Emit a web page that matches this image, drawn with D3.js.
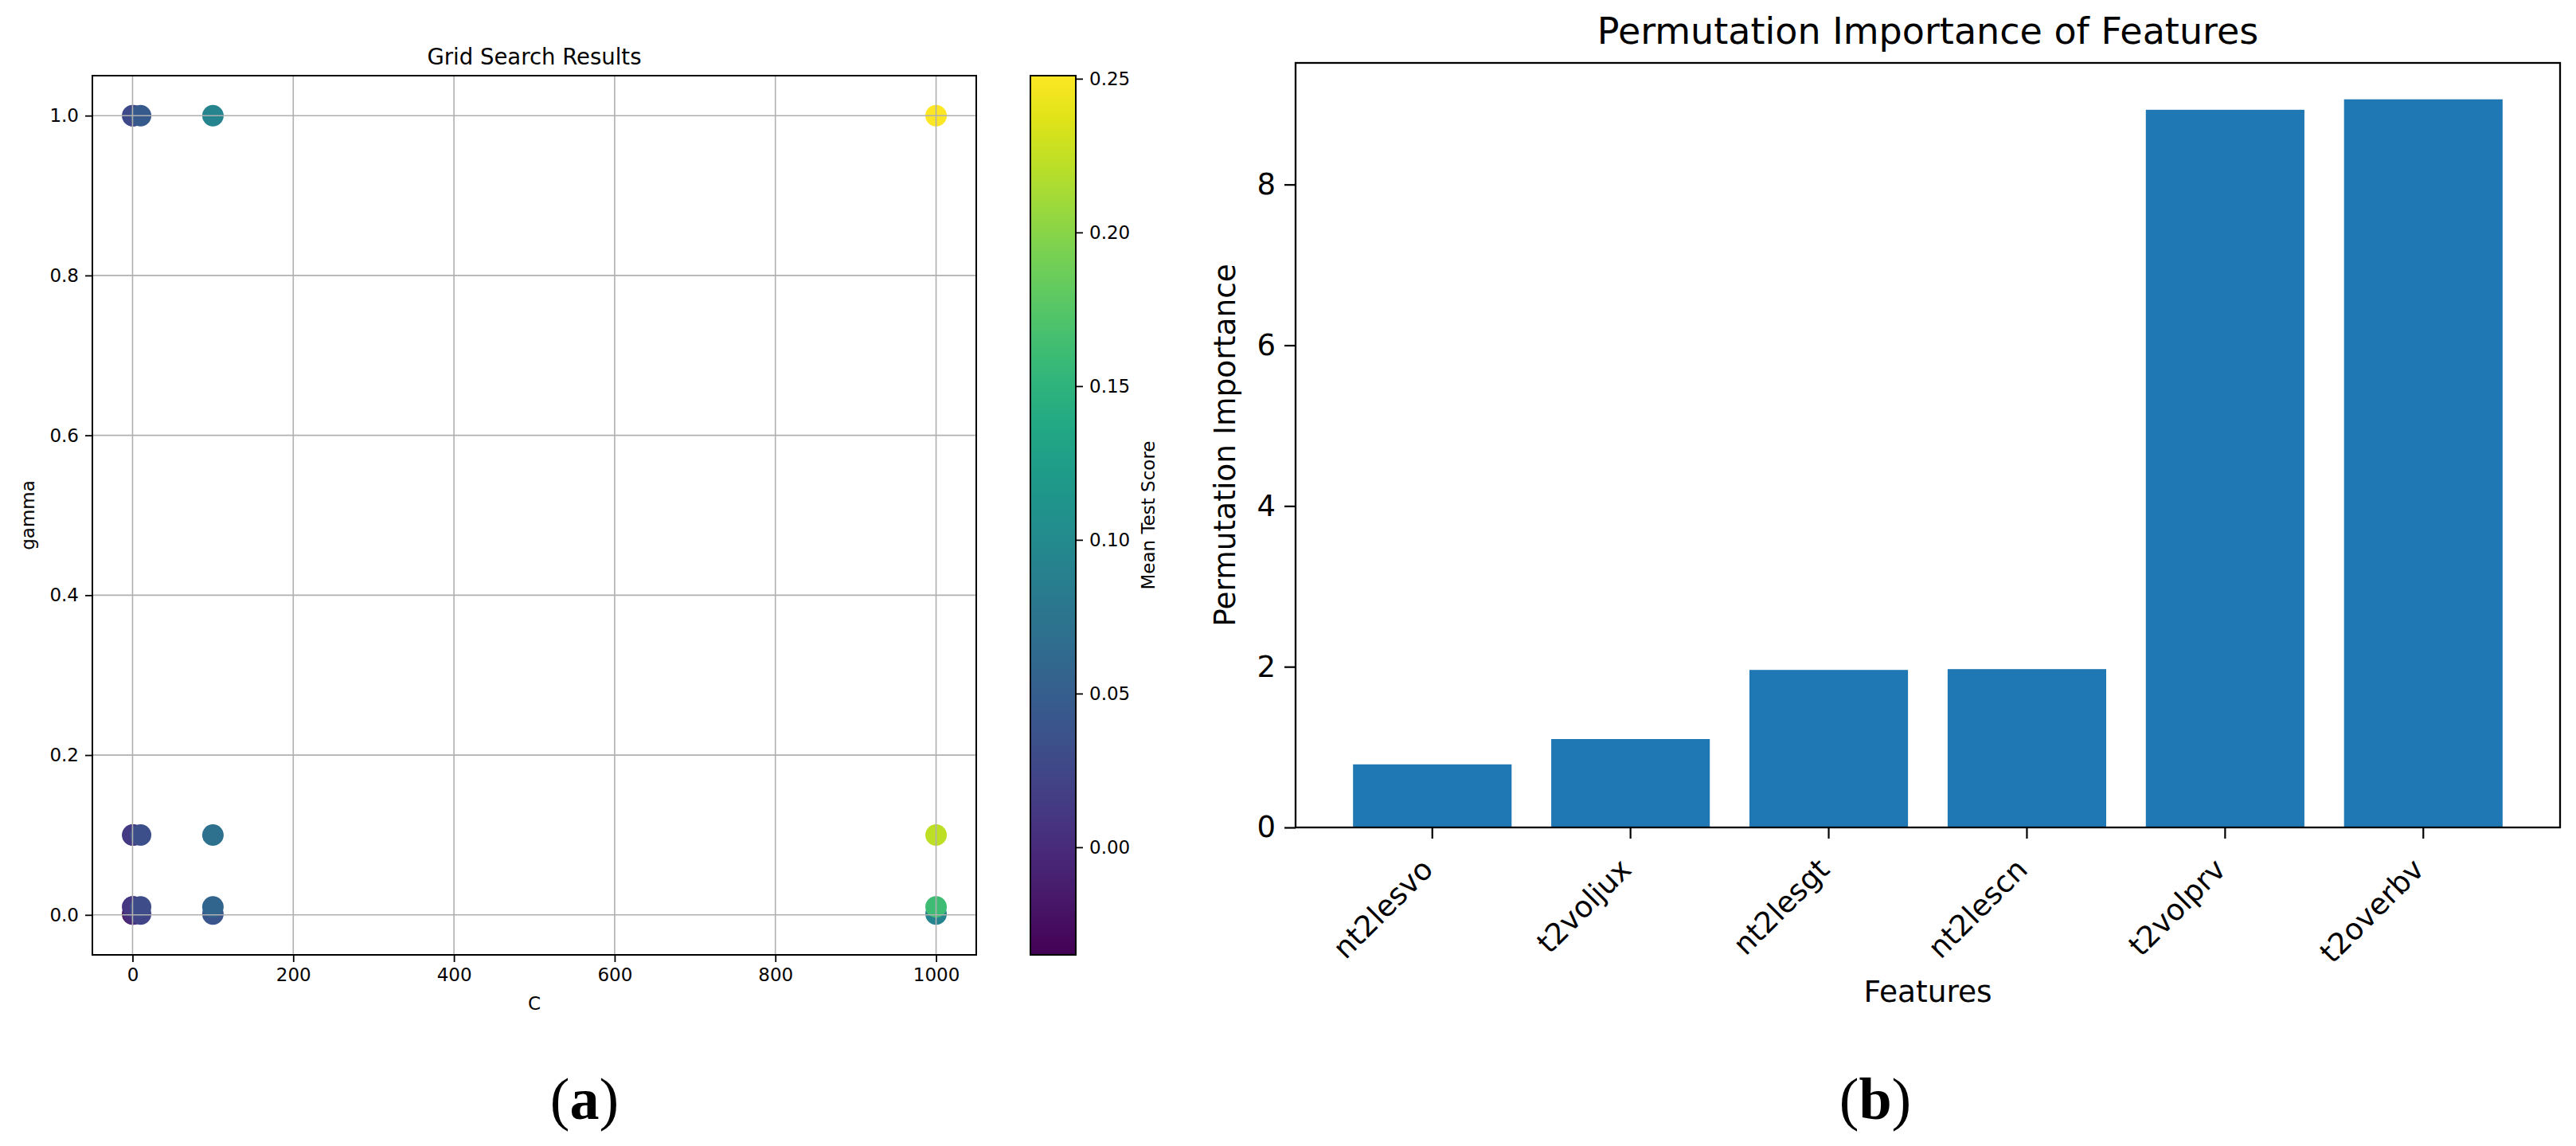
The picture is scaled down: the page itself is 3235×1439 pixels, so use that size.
<!DOCTYPE html>
<html>
<head>
<meta charset="utf-8">
<script src="https://cdn.jsdelivr.net/npm/d3@7"></script>
<style>
	body { margin: 0; background: #fff; }
	svg { display: block; font-family: "DejaVu Sans", sans-serif; }
</style>
</head>
<body>
<svg id="chart" width="3235" height="1439"></svg>
<script>

// grid search, panel (a)
var cValues = [0.1, 1, 10, 100, 1000];
var gammaValues = [0.001, 0.01, 0.1, 1];
// mean test score, one row per C, columns follow gammaValues
var scoresC01 = [-0.035, 0.004, 0.012, 0.025];
var scoresC1 = [0.000, 0.010, 0.014, 0.028];
var scoresC10 = [0.022, 0.030, 0.034, 0.045];
var scoresC100 = [0.040, 0.057, 0.071, 0.094];
var scoresC1000 = [0.094, 0.162, 0.222, 0.251];
var xTicksA = [0, 200, 400, 600, 800, 1000];
var yTicksA = [0, 0.2, 0.4, 0.6, 0.8, 1.0];
var cbarTicks = [0, 0.05, 0.10, 0.15, 0.20, 0.25];

// permutation importance, panel (b)
var features = ["nt2lesvo", "t2voljux", "nt2lesgt", "nt2lescn", "t2volprv", "t2overbv"];
var importance = [0.785, 1.10, 1.96, 1.97, 8.93, 9.06];
var yTicksB = [0, 2, 4, 6, 8];

var svg = d3.select("#chart");

var scoreRows = [scoresC01, scoresC1, scoresC10, scoresC100, scoresC1000];
var points = [];
cValues.forEach(function(c, i){
	gammaValues.forEach(function(g, j){
		points.push({ C: c, gamma: g, score: scoreRows[i][j] });
	});
});

/* ---------- panel (a): scatter ---------- */
var A = { left: 116, right: 1226, top: 95, bottom: 1199 };

var x = d3.scaleLinear().domain([-50, 1050]).range([A.left, A.right]);
var y = d3.scaleLinear().domain([-0.05, 1.05]).range([A.bottom, A.top]);

var scoreExtent = d3.extent(points, function(d){ return d.score; });
var color = d3.scaleSequential(d3.interpolateViridis).domain(scoreExtent);

var gA = svg.append("g");

gA.append("g").selectAll("circle")
	.data(points)
	.enter().append("circle")
	.attr("cx", function(d){ return x(d.C); })
	.attr("cy", function(d){ return y(d.gamma); })
	.attr("r", 13.5)
	.attr("fill", function(d){ return color(d.score); });

// grid sits above the markers, like matplotlib does
var grid = gA.append("g").attr("stroke", "#b0b0b0").attr("stroke-width", 1.6);
grid.selectAll(".gx").data(xTicksA).enter().append("line")
	.attr("x1", x).attr("x2", x).attr("y1", A.top).attr("y2", A.bottom);
grid.selectAll(".gy").data(yTicksA).enter().append("line")
	.attr("x1", A.left).attr("x2", A.right).attr("y1", y).attr("y2", y);

var axisBottomA = d3.axisBottom(x).tickValues(xTicksA).tickSize(9).tickPadding(8).tickFormat(d3.format("d"));
var axisLeftA = d3.axisLeft(y).tickValues(yTicksA).tickSize(9).tickPadding(8).tickFormat(d3.format(".1f"));

gA.append("g").attr("class", "axA").attr("transform", "translate(0," + A.bottom + ")").call(axisBottomA);
gA.append("g").attr("class", "axA").attr("transform", "translate(" + A.left + ",0)").call(axisLeftA);

gA.append("rect")
	.attr("x", A.left).attr("y", A.top)
	.attr("width", A.right - A.left).attr("height", A.bottom - A.top)
	.attr("fill", "none").attr("stroke", "#000").attr("stroke-width", 2);

gA.append("text").attr("x", (A.left + A.right) / 2).attr("y", 81)
	.attr("text-anchor", "middle").attr("font-size", 27.5).text("Grid Search Results");
gA.append("text").attr("x", (A.left + A.right) / 2).attr("y", 1268)
	.attr("text-anchor", "middle").attr("font-size", 23).text("C");
gA.append("text").attr("transform", "translate(43," + (A.top + A.bottom) / 2 + ") rotate(-90)")
	.attr("text-anchor", "middle").attr("font-size", 23).text("gamma");

// colorbar
var CB = { left: 1294, right: 1351, top: 95, bottom: 1199 };
var cbScale = d3.scaleLinear().domain(scoreExtent).range([CB.bottom, CB.top]);

var grad = svg.append("defs").append("linearGradient")
	.attr("id", "viridis").attr("x1", 0).attr("y1", 1).attr("x2", 0).attr("y2", 0);
d3.range(0, 1.0001, 0.05).forEach(function(t){
	grad.append("stop").attr("offset", t).attr("stop-color", d3.interpolateViridis(t));
});

gA.append("rect")
	.attr("x", CB.left).attr("y", CB.top)
	.attr("width", CB.right - CB.left).attr("height", CB.bottom - CB.top)
	.attr("fill", "url(#viridis)").attr("stroke", "#000").attr("stroke-width", 2);

gA.append("g").attr("class", "axA").attr("transform", "translate(" + CB.right + ",0)")
	.call(d3.axisRight(cbScale).tickValues(cbarTicks).tickSize(9).tickPadding(8).tickFormat(d3.format(".2f")));

gA.append("text").attr("transform", "translate(1450," + (CB.top + CB.bottom) / 2 + ") rotate(-90)")
	.attr("text-anchor", "middle").attr("font-size", 23).text("Mean Test Score");

gA.selectAll(".axA .domain").remove();
gA.selectAll(".axA text").attr("font-size", 23).attr("font-family", "DejaVu Sans").attr("fill", "#000");
gA.selectAll(".axA line").attr("stroke", "#000").attr("stroke-width", 1.8);

/* ---------- panel (b): bars ---------- */
var B = { left: 1627, right: 3215, top: 79, bottom: 1039 };

var xb = d3.scaleBand().domain(features).range([B.left, B.right]).paddingInner(0.2).paddingOuter(0.29);
var yb = d3.scaleLinear().domain([0, d3.max(importance) * 1.05]).range([B.bottom, B.top]);

var gB = svg.append("g");

gB.append("g").selectAll("rect")
	.data(features)
	.enter().append("rect")
	.attr("x", function(d){ return xb(d); })
	.attr("y", function(d, i){ return yb(importance[i]); })
	.attr("width", xb.bandwidth())
	.attr("height", function(d, i){ return yb(0) - yb(importance[i]); })
	.attr("fill", "#1f77b4");

var xAxisB = gB.append("g").attr("class", "axB").attr("transform", "translate(0," + B.bottom + ")")
	.call(d3.axisBottom(xb).tickSize(14).tickPadding(10));
// rotated 45 deg, right end hung under the tick
xAxisB.selectAll("text")
	.attr("text-anchor", "end")
	.attr("dy", 0)
	.attr("y", 0)
	.attr("transform", "translate(3,55) rotate(-45)");

gB.append("g").attr("class", "axB").attr("transform", "translate(" + B.left + ",0)")
	.call(d3.axisLeft(yb).tickValues(yTicksB).tickSize(14).tickPadding(11).tickFormat(d3.format("d")));

gB.selectAll(".axB .domain").remove();
gB.selectAll(".axB text").attr("font-size", 37).attr("font-family", "DejaVu Sans").attr("fill", "#000");
gB.selectAll(".axB line").attr("stroke", "#000").attr("stroke-width", 2.2);

gB.append("rect")
	.attr("x", B.left).attr("y", B.top)
	.attr("width", B.right - B.left).attr("height", B.bottom - B.top)
	.attr("fill", "none").attr("stroke", "#000").attr("stroke-width", 2.3);

gB.append("text").attr("x", (B.left + B.right) / 2).attr("y", 55)
	.attr("text-anchor", "middle").attr("font-size", 46).text("Permutation Importance of Features");
gB.append("text").attr("x", (B.left + B.right) / 2).attr("y", 1258)
	.attr("text-anchor", "middle").attr("font-size", 37.5).text("Features");
gB.append("text").attr("transform", "translate(1551," + (B.top + B.bottom) / 2 + ") rotate(-90)")
	.attr("text-anchor", "middle").attr("font-size", 37.5).text("Permutation Importance");

/* ---------- sub-figure letters ---------- */
[["a", 734], ["b", 2355]].forEach(function(p){
	var t = svg.append("text").attr("x", p[1]).attr("y", 1405)
		.attr("text-anchor", "middle")
		.attr("font-family", "Liberation Serif, serif").attr("font-size", 74);
	t.append("tspan").text("(");
	t.append("tspan").attr("font-weight", "bold").text(p[0]);
	t.append("tspan").text(")");
});

</script>
</body>
</html>
